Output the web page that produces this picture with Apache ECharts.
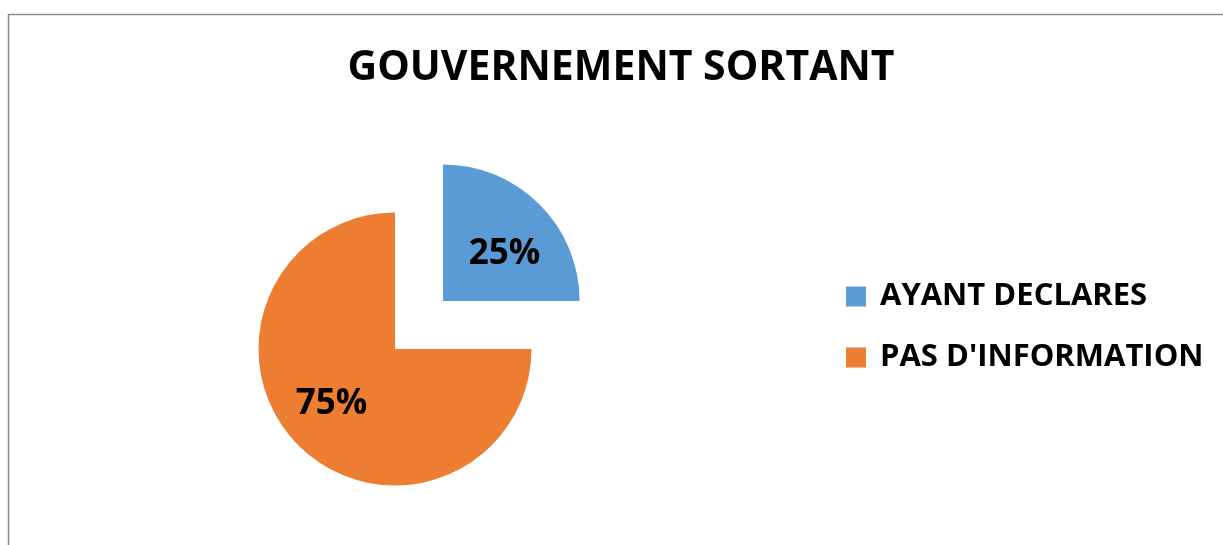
<!DOCTYPE html>
<html>
<head>
<meta charset="utf-8">
<script src="https://cdn.jsdelivr.net/npm/echarts@6/dist/echarts.min.js"></script>
<style>
html,body{margin:0;padding:0;background:#fff;}
#chart{width:1223px;height:545px;}
</style>
</head>
<body>
<div id="chart"></div>
<script>
var titleText = 'GOUVERNEMENT SORTANT';
var categories = ['AYANT DECLARES', "PAS D'INFORMATION"];
var values = [25, 75];
var colors = ['#5B9BD5', '#ED7D31'];
var labelShifts = [[11, 3], [-13, 5]];

var chart = echarts.init(document.getElementById('chart'), null, {renderer: 'canvas'});
var FONT = '"Open Sans", "Noto Sans", sans-serif';

var data = categories.map(function (c, i) {
  return {
    name: c,
    value: values[i],
    selected: i === 0,
    itemStyle: {color: colors[i]}
  };
});

chart.setOption({
  animation: false,
  backgroundColor: '#fff',
  graphic: [{
    type: 'rect',
    silent: true,
    shape: {x: 8.5, y: 14.5, width: 1300, height: 600},
    style: {fill: 'none', stroke: '#8c8c8c', lineWidth: 1.5}
  }],
  title: {
    text: titleText,
    left: 621,
    top: 48,
    textAlign: 'center',
    padding: 0,
    textStyle: {fontFamily: FONT, fontWeight: 'bold', fontSize: 41, color: '#000'}
  },
  legend: {
    orient: 'vertical',
    left: 846,
    top: 281,
    padding: 0,
    itemWidth: 20,
    itemHeight: 20,
    itemGap: 30,
    icon: 'rect',
    selectedMode: false,
    data: categories,
    textStyle: {fontFamily: FONT, fontWeight: 'bold', fontSize: 31, color: '#000', lineHeight: 20, padding: [0, 0, 0, 9]}
  },
  series: [{
    type: 'pie',
    center: [395, 349],
    radius: 136.5,
    startAngle: 90,
    clockwise: true,
    selectedMode: 'single',
    selectedOffset: 68,
    silent: true,
    emphasis: {disabled: true},
    labelLine: {show: false},
    label: {
      show: true,
      position: 'inside',
      formatter: '{d}%',
      fontFamily: FONT,
      fontWeight: 'bold',
      fontSize: 35,
      color: '#000'
    },
    labelLayout: function (params) {
      var s = labelShifts[params.dataIndex] || [0, 0];
      return {dx: s[0], dy: s[1]};
    },
    data: data
  }]
});
</script>
</body>
</html>
